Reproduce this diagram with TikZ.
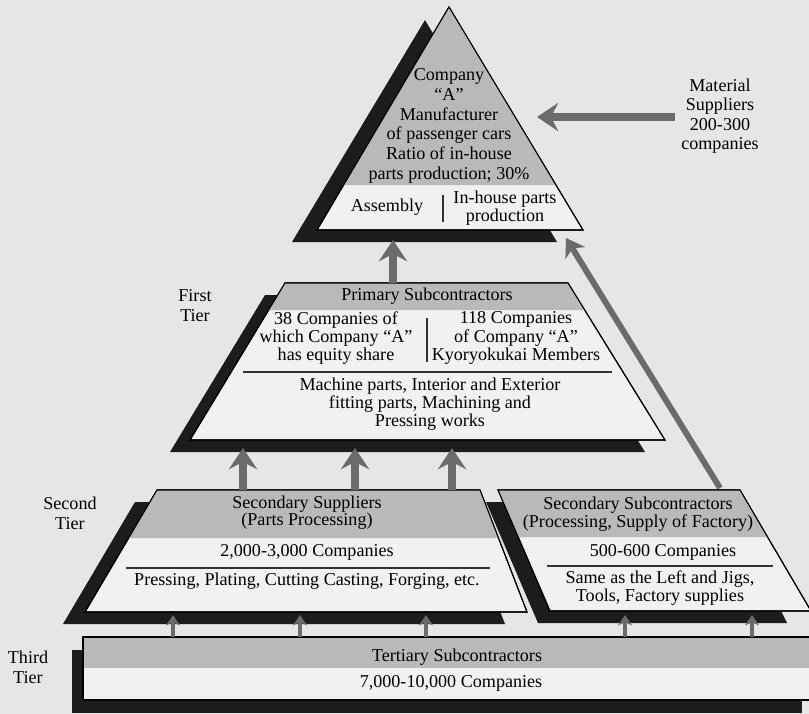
\documentclass[tikz,border=0pt]{standalone}
\usepackage{fontspec}
\setmainfont{Liberation Serif}
\usetikzlibrary{arrows.meta}
\definecolor{paper}{HTML}{E6E6E6}
\definecolor{bodyfill}{HTML}{F1F1F1}
\definecolor{headfill}{HTML}{B9B9B9}
\definecolor{shade}{HTML}{1C1C1C}
\definecolor{arrowgray}{HTML}{6B6B6B}
\begin{document}
\begin{tikzpicture}[x=0.02cm,y=-0.02cm,
  txt/.style={align=center,inner sep=0pt,font=\fontsize{10.3}{#1}\selectfont},
  txt/.default=11,
  body/.style={fill=bodyfill,draw=black,line width=0.6pt},
  shadow/.style={fill=shade},
  head/.style={fill=headfill},
  rule/.style={draw=black!80,line width=0.7pt},
  bigup/.style={draw=arrowgray,line width=4.5pt,-{Stealth[length=12pt,width=16pt,inset=4pt]}},
  slantup/.style={draw=arrowgray,line width=3.4pt,-{Stealth[length=10pt,width=13pt,inset=3pt]}},
  smallup/.style={draw=arrowgray,line width=2.2pt,-{Stealth[length=6pt,width=8pt,inset=2pt]}}]
\fill[paper] (0,0) rectangle (809,714);
\useasboundingbox (0,0) rectangle (809,714);
\coordinate (slantFoot) at (720,488);
\coordinate (slantTip) at (566,238);
\draw[slantup](slantFoot) -- (slantTip);
\fill[shadow] (425,20) -- (292,242) -- (557,242) -- cycle;
\fill[body] (449,7) -- (317,230) -- (583,230) -- cycle;
\fill[head] (449,7) -- (343.6,185) -- (555.9,185) -- cycle;
\draw[body,fill=none] (449,7) -- (317,230) -- (583,230) -- cycle;
\node[txt=11.2] (maker) at (449,126) {Company\\``A''\\Manufacturer\\of passenger cars\\Ratio of in-house\\parts production; 30\%};
\node[txt] (assembly) at (387,207) {Assembly};
\node[txt=10.5] (inhouse) at (505,208) {In-house parts\\production};
\coordinate (makerSplitTop) at (443,195);
\coordinate (makerSplitBot) at (443,222);
\draw[rule](makerSplitTop) -- (makerSplitBot);
\node[txt=11] (material) at (720,116) {Material\\Suppliers\\200-300\\companies};
\coordinate (materialFoot) at (675,117);
\coordinate (materialTip) at (537,117);
\draw[bigup](materialFoot) -- (materialTip);
\fill[shadow] (265,295) -- (548,295) -- (645,452) -- (170,452) -- cycle;
\fill[body] (285,283) -- (568,283) -- (665,440) -- (190,440) -- cycle;
\fill[head] (285,283) -- (568,283) -- (584.7,310) -- (268.7,310) -- cycle;
\draw[body,fill=none] (285,283) -- (568,283) -- (665,440) -- (190,440) -- cycle;
\node[txt=11.4] (first) at (195,306) {First\\Tier};
\node[txt] (primary) at (427,296) {Primary Subcontractors};
\node[txt=8.8] (equity) at (336,338) {38 Companies of\\which Company ``A''\\has equity share};
\node[txt=8.8] (kyoryoku) at (516,338) {118 Companies\\of Company ``A''\\Kyoryokukai Members};
\coordinate (primarySplitTop) at (427,318);
\coordinate (primarySplitBot) at (427,362);
\draw[rule](primarySplitTop) -- (primarySplitBot);
\coordinate (primaryRuleL) at (243,372);
\coordinate (primaryRuleR) at (612,372);
\draw[rule](primaryRuleL) -- (primaryRuleR);
\node[txt=9.3] (machine) at (430,404) {Machine parts, Interior and Exterior\\fitting parts, Machining and\\Pressing works};
\coordinate (primaryFoot) at (393,283);
\coordinate (primaryTip) at (393,240);
\draw[bigup](primaryFoot) -- (primaryTip);
\fill[shadow] (135,502) -- (458,502) -- (505,624) -- (63,624) -- cycle;
\fill[body] (157,490) -- (480,490) -- (527,612) -- (85,612) -- cycle;
\fill[head] (157,490) -- (480,490) -- (498.5,538) -- (128.7,538) -- cycle;
\draw[body,fill=none] (157,490) -- (480,490) -- (527,612) -- (85,612) -- cycle;
\node[txt=11.4] (second) at (70,513) {Second\\Tier};
\node[txt=9.8] (suppliers) at (307,513) {Secondary Suppliers\\(Parts Processing)};
\node[txt] (supCount) at (307,552) {2,000-3,000 Companies};
\coordinate (supRuleL) at (126,568);
\coordinate (supRuleR) at (490,568);
\draw[rule](supRuleL) -- (supRuleR);
\node[txt] (supWork) at (307,581) {Pressing, Plating, Cutting Casting, Forging, etc.};
\fill[shadow] (486,502) -- (728,502) -- (787,623) -- (538,623) -- cycle;
\fill[body] (498,490) -- (740,490) -- (811,611) -- (550,611) -- cycle;
\fill[head] (498,490) -- (740,490) -- (766.8,537) -- (518.2,537) -- cycle;
\draw[body,fill=none] (498,490) -- (740,490) -- (811,611) -- (550,611) -- cycle;
\node[txt=10.2] (subcon) at (638,514) {Secondary Subcontractors\\(Processing, Supply of Factory)};
\node[txt] (subCount) at (663,552) {500-600 Companies};
\coordinate (subRuleL) at (547,566);
\coordinate (subRuleR) at (773,566);
\draw[rule](subRuleL) -- (subRuleR);
\node[txt=9] (subWork) at (660,588) {Same as the Left and Jigs,\\Tools, Factory supplies};
\foreach \ax/\nm in {243/a,355/b,452/c}{
  \coordinate (up\nm Foot) at (\ax,490);
  \coordinate (up\nm Tip) at (\ax,448);
  \draw[bigup](up\nm Foot) -- (up\nm Tip);
}
\fill[shadow] (72,650) rectangle (802,713);
\fill[body] (83,637) rectangle (815,700);
\fill[head] (83,637) rectangle (815,668);
\draw[body,fill=none] (83,637) rectangle (815,700);
\node[txt=11.4] (third) at (28,667) {Third\\Tier};
\node[txt] (tertiary) at (457,657) {Tertiary Subcontractors};
\node[txt] (terCount) at (451,683) {7,000-10,000 Companies};
\foreach \ax/\nm in {173/a,300/b,426/c,625/d,752/e}{
  \coordinate (low\nm Foot) at (\ax,637);
  \coordinate (low\nm Tip) at (\ax,615);
  \draw[smallup](low\nm Foot) -- (low\nm Tip);
}
\end{tikzpicture}
\end{document}
